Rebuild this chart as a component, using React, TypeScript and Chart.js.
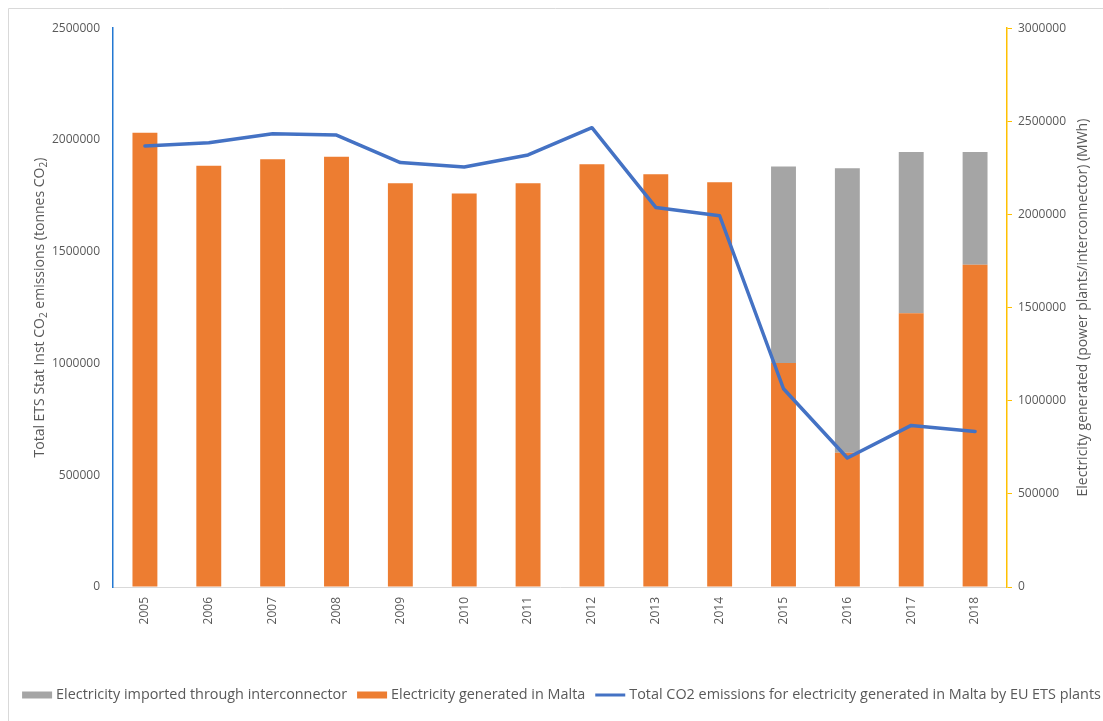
import React, { useEffect, useRef } from "react";
import { Chart, registerables } from "chart.js";

Chart.register(...registerables);

// Years on the category axis
const years = [
  "2005", "2006", "2007", "2008", "2009", "2010", "2011",
  "2012", "2013", "2014", "2015", "2016", "2017", "2018",
];

// Electricity generated in Malta (MWh)
const generatedMalta = [
  2439000, 2261000, 2297000, 2310000, 2168000, 2112000, 2168000,
  2270000, 2216000, 2173000, 1202000, 721000, 1470000, 1730000,
];

// Electricity imported through the interconnector (MWh)
const importedInterconnector = [
  0, 0, 0, 0, 0, 0, 0,
  0, 0, 0, 1055000, 1527000, 866000, 606000,
];

// Total CO2 emissions of EU ETS plants (tonnes CO2)
const co2Emissions = [
  1973000, 1988000, 2028000, 2022000, 1899000, 1879000, 1933000,
  2055000, 1698000, 1661000, 887000, 577000, 723000, 696000,
];

// Tick values for the two value axes
const leftTicks = [0, 500000, 1000000, 1500000, 2000000, 2500000];
const rightTicks = [0, 500000, 1000000, 1500000, 2000000, 2500000, 3000000];

const legendLabels = [
  "Electricity imported through interconnector",
  "Electricity generated in Malta",
  "Total CO2 emissions for electricity generated in Malta by EU ETS plants",
];

const TEXT = "#595959";
const ORANGE = "#ED7D31";
const GREY = "#A5A5A5";
const BLUE_LINE = "#4472C4";
const LEFT_AXIS = "#2378D2";
const RIGHT_AXIS = "#FFC000";
const FONT = "'Open Sans', 'DejaVu Sans', sans-serif";

type Seg = { t: string; sub?: boolean };

function drawRotated(ctx: CanvasRenderingContext2D, segs: Seg[], cx: number, cy: number, size: number) {
  const main = `${size}px ${FONT}`;
  const small = `${Math.round(size * 0.7)}px ${FONT}`;
  let total = 0;
  const widths = segs.map((s) => {
    ctx.font = s.sub ? small : main;
    const w = ctx.measureText(s.t).width;
    total += w;
    return w;
  });
  ctx.save();
  ctx.translate(cx, cy);
  ctx.rotate(-Math.PI / 2);
  ctx.fillStyle = TEXT;
  ctx.textBaseline = "middle";
  ctx.textAlign = "left";
  let x = -total / 2;
  segs.forEach((s, i) => {
    ctx.font = s.sub ? small : main;
    ctx.fillText(s.t, x, s.sub ? size * 0.3 : 0);
    x += widths[i];
  });
  ctx.restore();
}

const decorPlugin = {
  id: "decor",
  afterDraw(chart: any) {
    const { ctx, chartArea, width } = chart;
    const midY = (chartArea.top + chartArea.bottom) / 2;

    // chart frame
    ctx.save();
    ctx.strokeStyle = "#D9D9D9";
    ctx.lineWidth = 1;
    ctx.beginPath();
    ctx.moveTo(0.5, chart.height);
    ctx.lineTo(0.5, 0.5);
    ctx.lineTo(width, 0.5);
    ctx.stroke();
    ctx.restore();

    // axis titles
    drawRotated(
      ctx,
      [
        { t: "Total ETS Stat Inst CO" },
        { t: "2", sub: true },
        { t: " emissions (tonnes CO" },
        { t: "2", sub: true },
        { t: ")" },
      ],
      32,
      midY,
      14
    );
    drawRotated(
      ctx,
      [{ t: "Electricity generated (power plants/interconnector) (MWh)" }],
      1075,
      midY,
      14
    );

    // legend
    const fs = 14.4;
    ctx.save();
    ctx.font = `${fs}px ${FONT}`;
    ctx.textBaseline = "middle";
    ctx.textAlign = "left";
    const boxW = 30;
    const gap = 4;
    const spacing = 10;
    const tw = legendLabels.map((l) => ctx.measureText(l).width);
    const total = tw.reduce((a, b) => a + b, 0) + legendLabels.length * (boxW + gap) + spacing * (legendLabels.length - 1);
    let x = width / 2 + 6 - total / 2;
    const y = 687;
    const kinds = ["grey", "orange", "line"];
    legendLabels.forEach((label, i) => {
      if (kinds[i] === "line") {
        ctx.strokeStyle = BLUE_LINE;
        ctx.lineWidth = 3;
        ctx.beginPath();
        ctx.moveTo(x, y);
        ctx.lineTo(x + boxW, y);
        ctx.stroke();
      } else {
        ctx.fillStyle = kinds[i] === "grey" ? GREY : ORANGE;
        ctx.fillRect(x, y - 3.5, boxW, 7);
      }
      ctx.fillStyle = TEXT;
      ctx.fillText(label, x + boxW + gap, y);
      x += boxW + gap + tw[i] + spacing;
    });
    ctx.restore();
  },
};

export default function App() {
  const ref = useRef<HTMLCanvasElement | null>(null);

  useEffect(() => {
    if (!ref.current) return;
    const chart = new Chart(ref.current, {
      type: "bar",
      data: {
        labels: years,
        datasets: [
          {
            type: "line",
            label: legendLabels[2],
            data: co2Emissions,
            yAxisID: "y",
            borderColor: BLUE_LINE,
            backgroundColor: BLUE_LINE,
            borderWidth: 3.5,
            pointRadius: 0,
            tension: 0,
            borderJoinStyle: "round",
            borderCapStyle: "round",
            order: 0,
          } as any,
          {
            type: "bar",
            label: legendLabels[1],
            data: generatedMalta,
            yAxisID: "y1",
            backgroundColor: ORANGE,
            stack: "elec",
            categoryPercentage: 1,
            barPercentage: 0.39,
            order: 1,
          },
          {
            type: "bar",
            label: legendLabels[0],
            data: importedInterconnector,
            yAxisID: "y1",
            backgroundColor: GREY,
            stack: "elec",
            categoryPercentage: 1,
            barPercentage: 0.39,
            order: 2,
          },
        ],
      },
      options: {
        animation: false,
        responsive: false,
        devicePixelRatio: 1,
        layout: { padding: { top: 19, left: 0, right: 0, bottom: 50 } },
        plugins: {
          legend: { display: false },
          tooltip: { enabled: false },
          title: { display: false },
        },
        scales: {
          x: {
            stacked: true,
            grid: { display: false, drawTicks: false },
            border: { display: true, color: "#D9D9D9", width: 1 },
            ticks: {
              color: TEXT,
              font: { family: FONT, size: 12 },
              minRotation: 90,
              maxRotation: 90,
              padding: 10,
            },
            afterFit(scale: any) {
              scale.height = 84;
            },
          },
          y: {
            position: "left",
            min: 0,
            max: 2500000,
            grid: { display: false, drawTicks: false },
            border: { display: true, color: LEFT_AXIS, width: 1.5 },
            ticks: {
              color: TEXT,
              font: { family: FONT, size: 12 },
              padding: 13,
              callback: (v: any) => String(v),
            },
            afterBuildTicks(scale: any) {
              scale.ticks = leftTicks.map((value) => ({ value }));
            },
            afterFit(scale: any) {
              scale.width = 105;
            },
          },
          y1: {
            position: "right",
            min: 0,
            max: 3000000,
            stacked: true,
            grid: {
              display: true,
              drawOnChartArea: false,
              drawTicks: true,
              tickLength: 5,
              color: RIGHT_AXIS,
            },
            border: { display: true, color: RIGHT_AXIS, width: 1.5 },
            ticks: {
              color: TEXT,
              font: { family: FONT, size: 12 },
              padding: 6,
              callback: (v: any) => String(v),
            },
            afterBuildTicks(scale: any) {
              scale.ticks = rightTicks.map((value) => ({ value }));
            },
            afterFit(scale: any) {
              scale.width = 96;
            },
          },
        },
      },
      plugins: [decorPlugin],
    });
    return () => chart.destroy();
  }, []);

  return (
    <div style={{ position: "absolute", left: 8, top: 8, width: 1095, height: 713 }}>
      <canvas ref={ref} width={1095} height={713} style={{ display: "block" }} />
    </div>
  );
}
